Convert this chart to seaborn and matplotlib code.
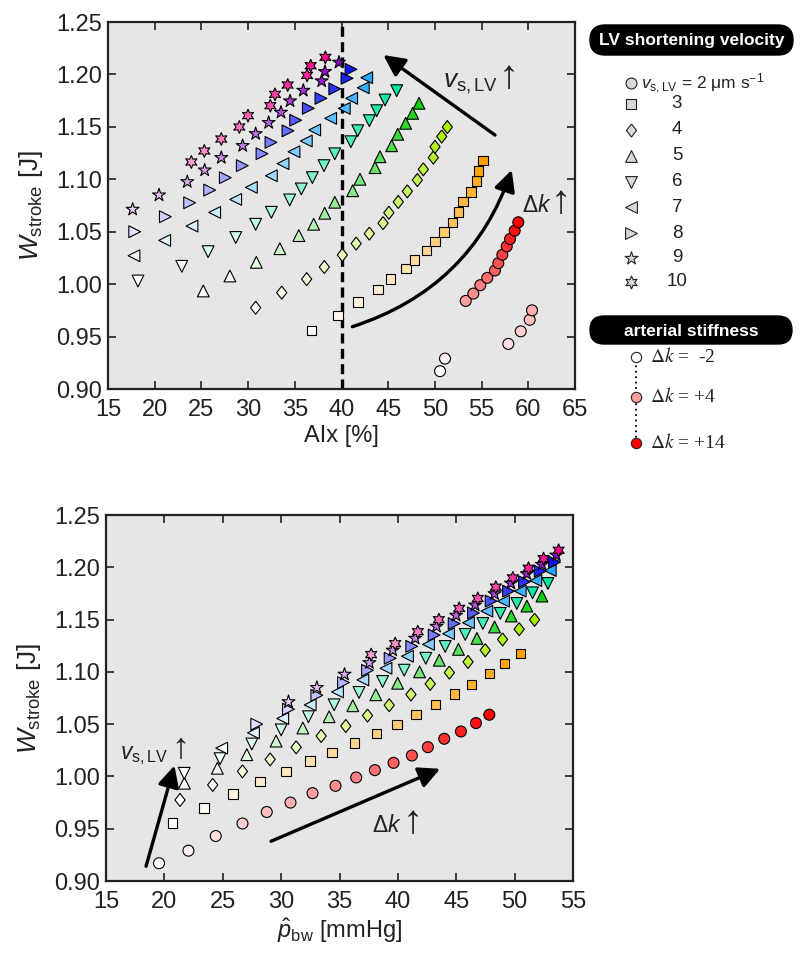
import numpy as np
import pandas as pd
import matplotlib
matplotlib.use("Agg")
import matplotlib.pyplot as plt
import matplotlib.colors as mcolors
from matplotlib.markers import MarkerStyle
from matplotlib.patches import FancyBboxPatch
import seaborn as sns

# ---------------- data ----------------
velocities = [2, 3, 4, 5, 6, 7, 8, 9, 10]
delta_k_levels = list(range(-2, 15))  # 17 stiffness levels

w_v2 = [0.917, 0.929, 0.943, 0.955, 0.966, 0.975, 0.984, 0.991, 0.999, 1.006, 1.013, 1.020, 1.028, 1.036, 1.043, 1.051, 1.059]
aix_v2 = [50.55, 51.08, 57.86, 59.19, 60.15, 60.40, 53.30, 54.11, 54.86, 55.61, 56.43, 56.79, 57.22, 57.69, 58.04, 58.54, 58.93]
pbw_v2 = [19.54, 22.06, 24.40, 26.69, 28.77, 30.80, 32.69, 34.66, 36.43, 38.03, 39.63, 41.20, 42.57, 43.97, 45.40, 46.69, 47.83]

w_v3 = [0.9556, 0.970, 0.983, 0.995, 1.0049, 1.0147, 1.023, 1.0319, 1.0408, 1.0497, 1.059, 1.0688, 1.079, 1.088, 1.0984, 1.108, 1.1177]
aix_v3 = [36.81, 39.62, 41.75, 43.90, 45.27, 46.90, 47.83, 49.11, 50.00, 50.97, 51.86, 52.50, 53.00, 53.87, 54.47, 54.69, 55.15]
pbw_v3 = [20.71, 23.40, 25.86, 28.20, 30.40, 32.49, 34.37, 36.29, 38.17, 39.91, 41.57, 43.23, 44.83, 46.31, 47.83, 49.14, 50.48]

w_v4 = [0.9775, 0.9919, 1.0048, 1.0163, 1.0278, 1.0387, 1.0482, 1.0582, 1.0681, 1.0784, 1.0885, 1.0993, 1.1095, 1.1207, 1.1310, 1.1408, 1.1498]
aix_v4 = [30.81, 33.60, 36.27, 38.16, 40.09, 41.57, 42.98, 44.45, 45.07, 46.08, 47.05, 48.12, 48.76, 49.83, 50.01, 50.73, 51.33]
pbw_v4 = [21.34, 24.14, 26.69, 29.06, 31.29, 33.43, 35.54, 37.40, 39.26, 41.12, 42.77, 44.41, 46.01, 47.48, 48.97, 50.39, 51.71]

w_v5 = [0.9935, 1.0078, 1.0208, 1.0338, 1.0463, 1.0571, 1.0676, 1.0781, 1.0891, 1.1000, 1.1111, 1.1215, 1.1320, 1.1429, 1.1534, 1.1629, 1.1725]
aix_v5 = [25.20, 28.05, 30.88, 33.40, 35.43, 37.02, 38.20, 39.28, 41.20, 41.98, 43.59, 44.12, 45.37, 46.02, 46.87, 47.62, 48.30]
pbw_v5 = [21.71, 24.54, 27.06, 29.57, 31.86, 34.11, 36.14, 38.11, 39.98, 41.86, 43.55, 45.19, 46.77, 48.28, 49.71, 51.05, 52.34]

w_v6 = [1.0030, 1.0170, 1.0310, 1.0445, 1.0571, 1.0685, 1.0803, 1.0908, 1.1016, 1.1130, 1.1243, 1.1358, 1.1463, 1.1559, 1.1654, 1.1756, 1.1845]
aix_v6 = [18.21, 22.90, 25.72, 28.68, 30.81, 32.49, 34.45, 35.70, 36.88, 38.13, 39.28, 41.00, 41.74, 42.98, 43.77, 44.66, 45.91]
pbw_v6 = [21.70, 24.77, 27.49, 30.00, 32.34, 34.54, 36.67, 38.69, 40.54, 42.39, 44.05, 45.77, 47.28, 48.77, 50.19, 51.54, 52.85]

w_v7 = [1.0271, 1.0417, 1.0554, 1.0684, 1.0808, 1.0923, 1.1034, 1.1149, 1.1263, 1.1365, 1.1470, 1.1581, 1.1676, 1.1772, 1.1873, 1.1969]
aix_v7 = [17.78, 21.07, 23.99, 26.42, 28.67, 30.35, 32.49, 33.74, 34.91, 36.23, 37.13, 38.84, 40.30, 41.09, 42.33, 42.70]
pbw_v7 = [24.91, 27.63, 30.14, 32.49, 34.83, 37.00, 38.98, 40.82, 42.62, 44.34, 46.05, 47.62, 49.05, 50.48, 51.82, 53.05]

w_v8 = [1.0500, 1.0643, 1.0776, 1.0897, 1.1015, 1.1130, 1.1244, 1.1352, 1.1462, 1.1563, 1.1677, 1.1772, 1.1862, 1.1963, 1.2049]
aix_v8 = [17.86, 21.14, 23.74, 25.89, 27.56, 29.38, 31.49, 32.45, 34.27, 35.09, 36.45, 37.80, 39.28, 40.60, 41.02]
pbw_v8 = [27.91, 30.63, 33.06, 35.34, 37.40, 39.34, 41.19, 43.11, 44.82, 46.48, 47.99, 49.48, 50.85, 52.19, 53.42]

w_v9 = [1.0713, 1.0849, 1.0976, 1.1087, 1.1206, 1.1320, 1.1434, 1.1540, 1.1638, 1.1746, 1.1847, 1.1937, 1.2026, 1.2115]
aix_v9 = [17.64, 20.46, 23.49, 25.35, 27.13, 29.42, 30.81, 32.20, 33.52, 34.49, 35.91, 37.88, 38.23, 39.73]
pbw_v9 = [30.63, 33.06, 35.43, 37.56, 39.56, 41.48, 43.31, 44.99, 46.62, 48.28, 49.68, 51.05, 52.34, 53.57]

w_v10 = [1.1165, 1.1270, 1.1384, 1.1499, 1.1607, 1.1702, 1.1810, 1.1899, 1.1991, 1.2083, 1.2163]
aix_v10 = [23.92, 25.31, 27.13, 29.06, 29.99, 32.38, 32.88, 34.24, 36.31, 36.70, 38.27]
pbw_v10 = [37.71, 39.77, 41.71, 43.51, 45.25, 46.85, 48.39, 49.85, 51.19, 52.48, 53.77]

series_w = {2: w_v2, 3: w_v3, 4: w_v4, 5: w_v5, 6: w_v6, 7: w_v7, 8: w_v8, 9: w_v9, 10: w_v10}
series_aix = {2: aix_v2, 3: aix_v3, 4: aix_v4, 5: aix_v5, 6: aix_v6, 7: aix_v7, 8: aix_v8, 9: aix_v9, 10: aix_v10}
series_pbw = {2: pbw_v2, 3: pbw_v3, 4: pbw_v4, 5: pbw_v5, 6: pbw_v6, 7: pbw_v7, 8: pbw_v8, 9: pbw_v9, 10: pbw_v10}

series_colors = {2: "#FF0000", 3: "#FFA000", 4: "#A8F000", 5: "#10D010", 6: "#00E6A0",
                 7: "#28A8FF", 8: "#0A14FF", 9: "#9400D0", 10: "#FF0090"}

legend_labels = ["3", "4", "5", "6", "7", "8", "9", "10"]
dk_legend_labels = [r"$\Delta k$ =  -2", r"$\Delta k$ = +4", r"$\Delta k$ = +14"]
dk_legend_values = [-2, 4, 14]

# ---------------- styling ----------------
sns.set_style("ticks")
plt.rcParams["font.family"] = ["Liberation Sans", "DejaVu Sans"]
plt.rcParams["mathtext.fontset"] = "custom"
plt.rcParams["mathtext.rm"] = "Liberation Sans"
plt.rcParams["mathtext.it"] = "Liberation Sans:italic"
plt.rcParams["mathtext.bf"] = "Liberation Sans:bold"

diamond = MarkerStyle([(0, 1), (0.78, 0), (0, -1), (-0.78, 0), (0, 1)])
markers = {2: MarkerStyle("o"), 3: MarkerStyle("s"), 4: diamond, 5: MarkerStyle("^"),
           6: MarkerStyle("v"), 7: MarkerStyle("<"), 8: MarkerStyle(">"),
           9: MarkerStyle("*"), 10: MarkerStyle((6, 1, 0))}
msizes = {2: 62, 3: 46, 4: 88, 5: 72, 6: 72, 7: 72, 8: 72, 9: 95, 10: 85}
TXT = "#222222"
ARROW_FONT = ["Liberation Sans", "DejaVu Sans"]


def mix_white(color, frac):
    c = np.array(mcolors.to_rgb(color))
    return tuple(1 - frac * (1 - c))


rows = []
palette = {}
for v in velocities:
    n = len(series_w[v])
    dks = delta_k_levels[-n:]
    for dk, w, a, p in zip(dks, series_w[v], series_aix[v], series_pbw[v]):
        key = f"{v}_{dk}"
        frac = (dk - delta_k_levels[0]) / (delta_k_levels[-1] - delta_k_levels[0])
        palette[key] = mix_white(series_colors[v], frac)
        rows.append(dict(v=v, dk=dk, W=w, AIx=a, pbw=p, key=key))
df = pd.DataFrame(rows)

fig = plt.figure(figsize=(8, 9.68), dpi=100)
ax1 = fig.add_axes([108 / 800, 1 - 389 / 968, 467 / 800, 367 / 968])
ax2 = fig.add_axes([106 / 800, 1 - 881 / 968, 467 / 800, 366 / 968])

for ax, xcol in ((ax1, "AIx"), (ax2, "pbw")):
    ax.set_facecolor("#E6E6E6")
    for v in velocities:
        sub = df[df.v == v]
        sns.scatterplot(data=sub, x=xcol, y="W", hue="key", palette=palette,
                        marker=markers[v], s=msizes[v], edgecolor="black",
                        linewidth=0.8, legend=False, ax=ax, zorder=3)
    ax.set_ylim(0.90, 1.25)
    ax.set_yticks(np.arange(0.90, 1.2501, 0.05))
    ax.set_yticklabels([f"{t:.2f}" for t in np.arange(0.90, 1.2501, 0.05)])
    ax.tick_params(direction="in", top=True, right=True, length=6, width=1.2,
                   labelsize=17, pad=4, colors=TXT)
    ax.tick_params(axis="x", pad=7)
    for sp in ax.spines.values():
        sp.set_linewidth(1.6)
        sp.set_color(TXT)
    ax.set_ylabel(r"$W_{\mathrm{stroke}}$ [J]", fontsize=19, labelpad=8, color=TXT)

ax1.set_xlim(15, 65)
ax1.set_xticks(range(15, 66, 5))
ax1.set_xlabel("AIx [%]", fontsize=17, labelpad=3, color=TXT)
ax2.set_xlim(15, 55)
ax2.set_xticks(range(15, 56, 5))
ax2.set_xlabel(r"$\hat{p}_{\mathrm{bw}}$ [mmHg]", fontsize=17, labelpad=3, color=TXT)

# dashed line at AIx = 40
ax1.axvline(40, color="black", lw=2.4, ls=(0, (3, 1.6)), zorder=2)

arrow_kw = dict(arrowstyle="-|>", lw=2.4, color="black", mutation_scale=32,
                shrinkA=0, shrinkB=0)
# top arrows
ax1.annotate("", xy=(44.48, 1.2185), xytext=(56.43, 1.1422), arrowprops=arrow_kw, zorder=4)
ax1.annotate("", xy=(58.22, 1.1089), xytext=(41.16, 0.9594),
             arrowprops=dict(connectionstyle="arc3,rad=0.25", **arrow_kw), zorder=4)
ax1.text(50.87, 1.188, r"$v_{\mathrm{s,LV}}$", fontsize=19, ha="left", va="baseline", color=TXT)
ax1.text(57.9, 1.187, "↑", fontsize=29, ha="center", va="baseline", family=ARROW_FONT,
         color=TXT, fontweight="bold")
ax1.text(59.33, 1.0688, r"$\Delta k$", fontsize=16.5, ha="left", va="baseline", color=TXT)
ax1.text(63.5, 1.0678, "↑", fontsize=29, ha="center", va="baseline", family=ARROW_FONT,
         color=TXT, fontweight="bold")

# bottom arrows
ax2.annotate("", xy=(20.86, 1.0104), xytext=(18.43, 0.9141), arrowprops=arrow_kw, zorder=4)
ax2.annotate("", xy=(43.62, 1.0073), xytext=(29.14, 0.938), arrowprops=arrow_kw, zorder=4)
ax2.text(16.2, 1.0162, r"$v_{\mathrm{s,LV}}$", fontsize=16.5, ha="left", va="baseline", color=TXT)
ax2.text(21.35, 1.018, "↑", fontsize=26, ha="center", va="baseline", family=ARROW_FONT,
         color=TXT, fontweight="bold")
ax2.text(37.79, 0.9473, r"$\Delta k$", fontsize=16.5, ha="left", va="baseline", color=TXT)
ax2.text(41.3, 0.9463, "↑", fontsize=29, ha="center", va="baseline", family=ARROW_FONT,
         color=TXT, fontweight="bold")

# ---------------- legends (pixel-coordinate overlay) ----------------
lax = fig.add_axes([0, 0, 1, 1], zorder=5)
lax.set_xlim(0, 800)
lax.set_ylim(968, 0)
lax.axis("off")
lax.patch.set_alpha(0)

for (x0, y0, w, h, label) in ((590, 25, 203, 30, "LV shortening velocity"),
                              (590, 316, 202, 28, "arterial stiffness")):
    lax.add_patch(FancyBboxPatch((x0, y0), w, h,
                                 boxstyle=f"round,pad=0,rounding_size={h/2}",
                                 fc="black", ec="black"))
    lax.text(x0 + w / 2, y0 + h / 2 + 1, label, color="white", fontsize=12.5,
             fontweight="bold", ha="center", va="center")

legend_rows_y = [83, 104, 130, 156, 182, 207, 233, 258, 282]
for v, yy in zip(velocities, legend_rows_y):
    lax.scatter([631], [yy], marker=markers[v], s=msizes[v], c="#D8D8D8",
                edgecolors="#222222", linewidths=0.8)
lax.text(641, 84, r"$v_{\mathrm{s,LV}}$ = 2 μm s$^{-1}$", fontsize=12.5,
         ha="left", va="center", color=TXT)
for lab, yy in zip(legend_labels, legend_rows_y[1:]):
    lax.text(677, yy, lab, fontsize=13.5, ha="center", va="center", color=TXT)

dk_y = [357, 397, 443]
lax.plot([636, 636], [360, 440], ls=(0, (1, 2)), color="black", lw=1.3, zorder=1)
for dkv, yy, lab in zip(dk_legend_values, dk_y, dk_legend_labels):
    frac = (dkv - delta_k_levels[0]) / (delta_k_levels[-1] - delta_k_levels[0])
    lax.scatter([636], [yy], marker="o", s=55, c=[mix_white(series_colors[2], frac)],
                edgecolors="#222222", linewidths=0.8, zorder=3)
    lax.text(650, yy, lab, fontsize=14, family="Liberation Serif",
             math_fontfamily="stix", ha="left", va="center", color=TXT)

fig.savefig("out.png", dpi=100)
